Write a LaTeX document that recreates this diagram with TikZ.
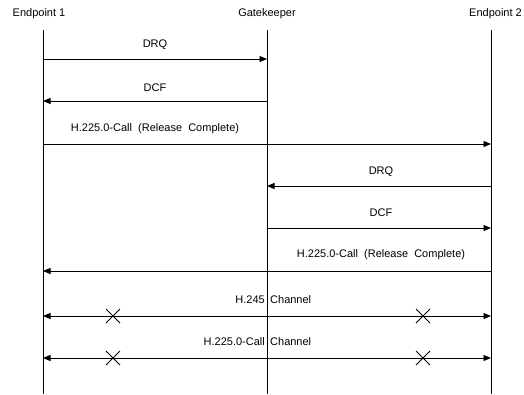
\documentclass[tikz,border=0pt]{standalone}
\usepackage{fontspec}
\setmainfont{Liberation Sans}
\usetikzlibrary{arrows.meta}
\begin{document}
\begin{tikzpicture}[x=1pt,y=-1pt,
  lbl/.style={font=\fontsize{11}{13}\selectfont, inner sep=0pt},
  life/.style={line width=1pt},
  msg/.style={line width=0.9pt, -{Triangle[length=7.5pt,width=6pt]}},
  bimsg/.style={line width=0.9pt, {Triangle[length=7.5pt,width=6pt]}-{Triangle[length=7.5pt,width=6pt]}},
  cross/.style={line width=0.8pt}]
\fill[white] (0,0) rectangle (524,394);
\useasboundingbox (0,0) rectangle (524,394);
% heads
\node[lbl] (e1) at (39,14) {Endpoint 1};
\node[lbl] (gk) at (267,14) {Gatekeeper};
\node[lbl, anchor=east] (e2) at (522,14) {Endpoint 2};
% lifelines
\coordinate (e1t) at (43,30); \coordinate (e1b) at (43,394);
\coordinate (gkt) at (267,30); \coordinate (gkb) at (267,394);
\coordinate (e2t) at (491,30); \coordinate (e2b) at (491,394);
\draw[life] (e1t) -- (e1b);
\draw[life] (gkt) -- (gkb);
\draw[life] (e2t) -- (e2b);
% messages
\foreach \n/\y in {1/59,2/101,3/144,4/186,5/228,6/271,7/316,8/358}{
  \coordinate (a\n) at (43,\y);
  \coordinate (b\n) at (267,\y);
  \coordinate (c\n) at (491,\y);
}
\draw[msg] (a1) -- (b1);
\node[lbl] (l1) at (155,45) {DRQ};
\draw[msg] (b2) -- (a2);
\node[lbl] (l2) at (155,88) {DCF};
\draw[msg] (a3) -- (c3);
\node[lbl] (l3) at (155,129) {H.225.0-Call\ \ (Release\ \ Complete)};
\draw[msg] (c4) -- (b4);
\node[lbl] (l4) at (381,172) {DRQ};
\draw[msg] (b5) -- (c5);
\node[lbl] (l5) at (381,213) {DCF};
\draw[msg] (c6) -- (a6);
\node[lbl] (l6) at (381,255) {H.225.0-Call\ \ (Release\ \ Complete)};
\draw[bimsg] (a7) -- (c7);
\node[lbl, anchor=east] (l7a) at (265,300) {H.245};
\node[lbl, anchor=west] (l7b) at (270,300) {Channel};
\draw[bimsg] (a8) -- (c8);
\node[lbl, anchor=east] (l8a) at (265,342) {H.225.0-Call};
\node[lbl, anchor=west] (l8b) at (270,342) {Channel};
% crosses
\foreach \y in {316,358}{
  \foreach \x in {113,423}{
    \draw[cross] (\x-7,\y-7) -- (\x+7,\y+7) (\x-7,\y+7) -- (\x+7,\y-7);
  }
}
\end{tikzpicture}
\end{document}
